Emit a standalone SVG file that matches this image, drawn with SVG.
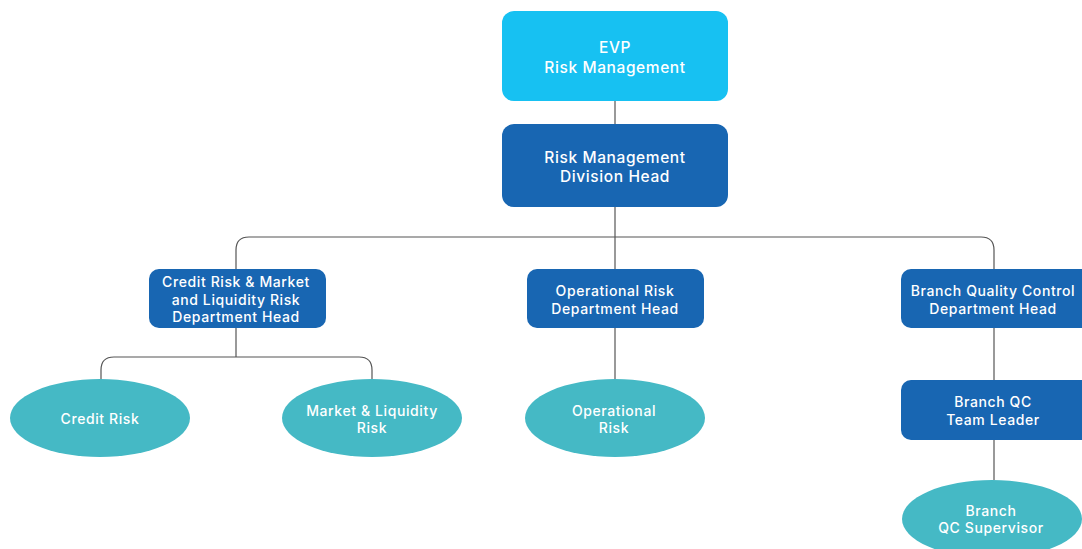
<svg xmlns="http://www.w3.org/2000/svg" width="1082" height="549" viewBox="0 0 1082 549">
<style>
.top{fill:#17C1F2}
.box{fill:#1866B2}
.ell{fill:#45B9C5}
text{font-family:"Inter","Noto Sans",sans-serif;font-size:14px;font-weight:500;letter-spacing:0.6px;fill:#fff;text-anchor:middle}
text.big{font-size:15.5px}
.ln{fill:none;stroke:#555;stroke-width:1.2}
</style>
<rect width="1082" height="549" fill="#fff"/>
<g id="connectors">
<path class="ln" d="M615 101V124"/>
<path class="ln" d="M615 207V269"/>
<path class="ln" d="M236 269V250Q236 237 249 237H981Q994 237 994 250V269"/>
<path class="ln" d="M236 328V357"/>
<path class="ln" d="M101 380V370Q101 357 114 357H359Q372 357 372 370V380"/>
<path class="ln" d="M615 328V380"/>
<path class="ln" d="M994 328V380"/>
<path class="ln" d="M994 440V480"/>
</g>
<g id="evp">
<rect class="top" x="502" y="11" width="226" height="90" rx="12"/>
<text class="big" x="615" y="53">EVP</text>
<text class="big" x="615" y="73">Risk Management</text>
</g>
<g id="division-head">
<rect class="box" x="502" y="124" width="226" height="83" rx="12"/>
<text class="big" x="615" y="163">Risk Management</text>
<text class="big" x="615" y="182">Division Head</text>
</g>
<g id="credit-dept">
<rect class="box" x="149" y="269" width="177" height="59" rx="10"/>
<text x="236" y="287">Credit Risk &amp; Market</text>
<text x="236" y="305">and Liquidity Risk</text>
<text x="236" y="322">Department Head</text>
</g>
<g id="op-dept">
<rect class="box" x="527" y="269" width="177" height="59" rx="10"/>
<text x="615" y="296">Operational Risk</text>
<text x="615" y="314">Department Head</text>
</g>
<g id="bqc-dept">
<rect class="box" x="901" y="269" width="190" height="59" rx="10"/>
<text x="993" y="296">Branch Quality Control</text>
<text x="993" y="314">Department Head</text>
</g>
<g id="bqc-leader">
<rect class="box" x="901" y="380" width="190" height="60" rx="10"/>
<text x="993" y="407">Branch QC</text>
<text x="993" y="425">Team Leader</text>
</g>
<g id="credit-risk">
<ellipse class="ell" cx="100" cy="418" rx="90" ry="39"/>
<text x="100" y="424">Credit Risk</text>
</g>
<g id="market-risk">
<ellipse class="ell" cx="372" cy="418" rx="90" ry="39"/>
<text x="372" y="416">Market &amp; Liquidity</text>
<text x="372" y="433">Risk</text>
</g>
<g id="op-risk">
<ellipse class="ell" cx="615" cy="418" rx="90" ry="39"/>
<text x="614" y="416">Operational</text>
<text x="614" y="433">Risk</text>
</g>
<g id="bqc-supervisor">
<ellipse class="ell" cx="992" cy="519" rx="90" ry="39"/>
<text x="991" y="516">Branch</text>
<text x="991" y="533">QC Supervisor</text>
</g>
</svg>
